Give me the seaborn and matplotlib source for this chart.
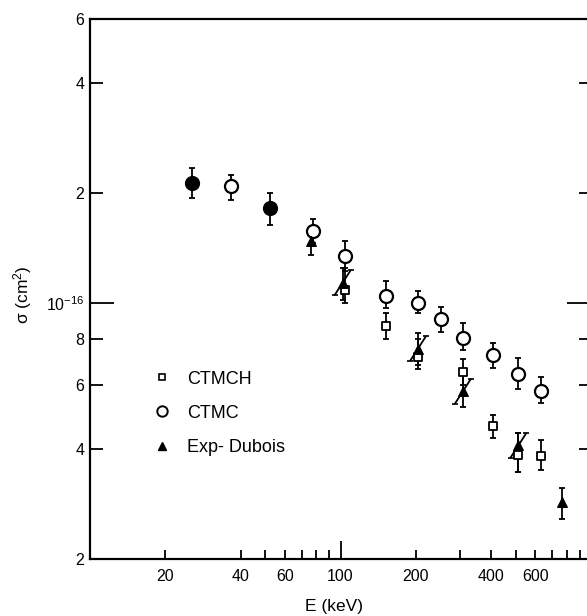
import numpy as np
import pandas as pd
import matplotlib
matplotlib.use("Agg")
import matplotlib.pyplot as plt
import seaborn as sns
from matplotlib.ticker import FixedLocator, FixedFormatter, NullLocator
from matplotlib.lines import Line2D

# ---------------- data (sigma in units of 1e-16 cm^2) ----------------
ctmc_E = [36.5, 78, 104, 152, 204, 252, 308, 405, 513, 633]
ctmc_sig = [2.09, 1.58, 1.35, 1.05, 1.00, 0.904, 0.807, 0.721, 0.640, 0.578]
ctmc_lo = [1.92, 1.46, 1.23, 0.97, 0.94, 0.838, 0.744, 0.664, 0.582, 0.533]
ctmc_hi = [2.24, 1.70, 1.48, 1.15, 1.085, 0.98, 0.882, 0.782, 0.708, 0.628]

# CTMC points coinciding with experiment (drawn filled)
fill_E = [25.5, 52.5]
fill_sig = [2.13, 1.83]
fill_lo = [1.94, 1.64]
fill_hi = [2.35, 2.01]

ctmch_E = [104, 152, 204, 308, 405, 513, 633]
ctmch_sig = [1.09, 0.865, 0.716, 0.648, 0.461, 0.384, 0.382]
ctmch_lo = [1.00, 0.802, 0.660, 0.60, 0.428, 0.345, 0.350]
ctmch_hi = [1.25, 0.939, 0.80, 0.703, 0.494, 0.442, 0.422]

exp_E = [76, 102, 204, 308, 513, 767]
exp_sig = [1.48, 1.14, 0.753, 0.575, 0.409, 0.286]
exp_lo = [1.36, 1.02, 0.68, 0.520, 0.345, 0.257]
exp_hi = [1.60, 1.25, 0.828, 0.636, 0.442, 0.312]
exp_slash = [False, True, True, True, True, False]

legend_labels = ["CTMCH", "CTMC", "Exp- Dubois"]
x_tick_vals = [20, 40, 60, 100, 200, 400, 600]
x_minor_vals = [50, 70, 80, 90, 300, 500, 700, 800, 900]
y_tick_vals = [2e-17, 4e-17, 6e-17, 8e-17, 1e-16, 2e-16, 4e-16, 6e-16]
y_tick_labels = ["2", "4", "6", "8", "10$^{-16}$", "2", "4", "6"]

UNIT = 1e-16

sns.set_style("ticks")
plt.rcParams["font.family"] = ["Liberation Sans", "DejaVu Sans"]
plt.rcParams["mathtext.fontset"] = "custom"
plt.rcParams["mathtext.rm"] = "Liberation Sans"
plt.rcParams["mathtext.it"] = "Liberation Sans:italic"
for k in ("text.color", "axes.labelcolor", "xtick.color", "ytick.color", "axes.edgecolor"):
    plt.rcParams[k] = "black"

fig = plt.figure(figsize=(5.87, 6.16), dpi=100)
ax = fig.add_axes([90 / 587, 1 - 559 / 616, 501 / 587, 540 / 616])
ax.set_xscale("log")
ax.set_yscale("log")


def series(E, s, lo, hi):
    df = pd.DataFrame({"E": E, "sig": np.array(s) * UNIT,
                       "lo": np.array(lo) * UNIT, "hi": np.array(hi) * UNIT})
    return df


d_ctmc = series(ctmc_E, ctmc_sig, ctmc_lo, ctmc_hi)
d_fill = series(fill_E, fill_sig, fill_lo, fill_hi)
d_ctmch = series(ctmch_E, ctmch_sig, ctmch_lo, ctmch_hi)
d_exp = series(exp_E, exp_sig, exp_lo, exp_hi)

eb = dict(fmt="none", ecolor="black", elinewidth=1.3, capsize=2.4, capthick=1.3, zorder=2)
for d in (d_ctmc, d_fill, d_ctmch, d_exp):
    ax.errorbar(d["E"], d["sig"], yerr=[d["sig"] - d["lo"], d["hi"] - d["sig"]], **eb)

# slanted error marks on experiment
for E, s, sl in zip(d_exp["E"], d_exp["sig"], exp_slash):
    if sl:
        ax.plot([E / 1.075, E * 1.075], [s / 1.08, s * 1.08], color="black", lw=1.3, zorder=2)
        ax.plot([E / 1.075, E * 1.075], [s / 1.08, s * 1.08], ls="none", marker="_",
                ms=5, mew=1.2, color="black", zorder=2)

sns.scatterplot(data=d_ctmc, x="E", y="sig", marker="o", s=88, color="white",
                edgecolor="black", linewidth=1.6, ax=ax, zorder=3)
sns.scatterplot(data=d_fill, x="E", y="sig", marker="o", s=95, color="black",
                edgecolor="black", linewidth=1.2, ax=ax, zorder=3)
sns.scatterplot(data=d_ctmch, x="E", y="sig", marker="s", s=26, color="white",
                edgecolor="black", linewidth=1.3, ax=ax, zorder=4)
sns.scatterplot(data=d_exp, x="E", y="sig", marker="^", s=50, color="black",
                edgecolor="black", linewidth=0.8, ax=ax, zorder=5)

ax.set_xlim(10, 1000)
ax.set_ylim(2e-17, 6e-16)

# ticks
ax.xaxis.set_major_locator(FixedLocator(x_tick_vals))
ax.xaxis.set_major_formatter(FixedFormatter([str(v) for v in x_tick_vals]))
ax.xaxis.set_minor_locator(FixedLocator(x_minor_vals))
ax.yaxis.set_major_locator(FixedLocator(y_tick_vals))
ax.yaxis.set_major_formatter(FixedFormatter(y_tick_labels))
ax.yaxis.set_minor_locator(NullLocator())

ax.tick_params(axis="x", which="both", direction="in", length=6.5, width=1.3,
               labelsize=11.5, pad=7, top=False, colors="black")
ax.tick_params(axis="y", which="both", direction="in", length=9, width=1.3,
               labelsize=11.5, pad=4, left=True, right=True, colors="black")
for t, v in zip(ax.xaxis.get_major_ticks(), x_tick_vals):
    if v == 100:
        t.tick1line.set_markersize(13)
for t, v in zip(ax.yaxis.get_major_ticks(), y_tick_vals):
    if v == 1e-16:
        t.tick1line.set_markersize(17)
        t.tick2line.set_markersize(17)

for sp in ax.spines.values():
    sp.set_linewidth(1.6)
    sp.set_color("black")

ax.set_xlabel("E (keV)", fontsize=12.5, color="black")
ax.xaxis.set_label_coords(0.487, -0.075)
ax.set_ylabel("σ (cm$^2$)", fontsize=12.5, color="black")
ax.yaxis.set_label_coords(-0.112, 0.49)

handles = [
    Line2D([], [], ls="none", marker="s", ms=4.6, mfc="white", mec="black", mew=1.2),
    Line2D([], [], ls="none", marker="o", ms=7.5, mfc="white", mec="black", mew=1.4),
    Line2D([], [], ls="none", marker="^", ms=6, mfc="black", mec="black"),
]
leg = ax.legend(handles, legend_labels, loc="center left", bbox_to_anchor=(0.126, 0.27),
                frameon=False, fontsize=13, handlelength=1.0, handletextpad=0.9,
                labelspacing=0.95, borderpad=0, borderaxespad=0)
for txt in leg.get_texts():
    txt.set_color("black")

fig.savefig("out.png", dpi=100)
